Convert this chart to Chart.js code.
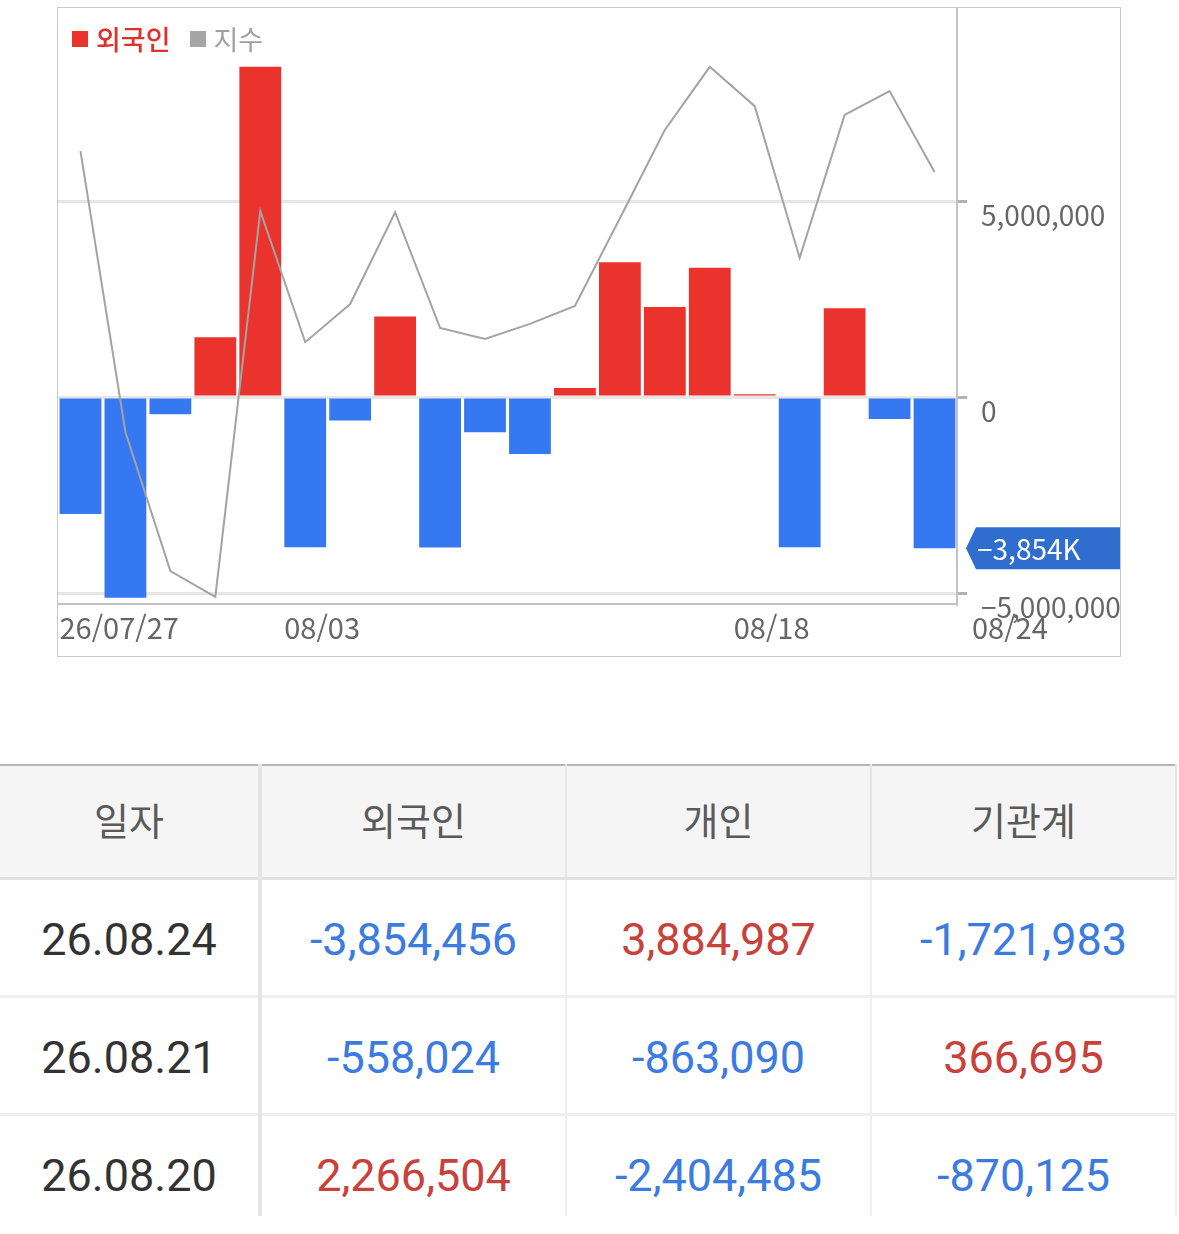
<!DOCTYPE html>
<html lang="ko">
<head>
<meta charset="utf-8">
<title>외국인 매매동향</title>
<script src="https://cdn.jsdelivr.net/npm/chart.js@4.4.1/dist/chart.umd.min.js"></script>
<style>
  html, body { margin: 0; padding: 0; background: #fff; }
  body {
    width: 1179px; height: 1234px; position: relative; overflow: hidden;
    font-family: 'Noto Sans CJK KR', 'Noto Sans', sans-serif;
  }
  #chartBox {
    position: absolute; left: 57px; top: 7px; width: 1064px; height: 650px;
    border: 1px solid #c9c9c9; box-sizing: border-box;
  }
  #legend {
    position: absolute; left: 14px; top: 15px; display: flex; align-items: center;
    font-size: 27px; line-height: 32px; pointer-events: none;
  }
  #legend .sw { display: inline-block; width: 16px; height: 16px; margin-right: 8px; }
  #legend .txt { margin-right: 19px; }
  #tableWrap {
    position: absolute; left: 0; top: 764px; width: 1177px; height: 452px; overflow: hidden;
  }
  table { border-collapse: collapse; width: 100%; table-layout: fixed; border-top: 2px solid #b5b5b5; }
  th {
    height: 105px; background: #f5f5f5; color: #5a5a5a; font-weight: 400; font-size: 38px;
    line-height: 1; padding: 0 0 6px 0; border-bottom: 3px solid #e2e2e2; border-right: 2px solid #e6e6e6;
  }
  td {
    height: 111px; text-align: center; font-family: Roboto, 'Noto Sans', sans-serif; font-size: 45px;
    line-height: 1; padding: 4px 0 0 0; border-bottom: 3px solid #efefef; border-right: 2px solid #efefef;
  }
  th:first-child, td:first-child { border-right: 4px solid #e4e4e4; }
  td.date { color: #333; }
  td.up { color: #c8413b; }
  td.down { color: #3c7be0; }
</style>
</head>
<body>
<div id="chartBox">
  <canvas id="flowChart"></canvas>
  <div id="legend"></div>
</div>
<div id="tableWrap">
  <table>
    <colgroup><col style="width:260px"><col style="width:306px"><col style="width:305px"><col></colgroup>
    <thead><tr id="headRow"></tr></thead>
    <tbody id="tableBody"></tbody>
  </table>
</div>

<script>
// 차트 데이터
const dates = ['07/27', '07/28', '07/29', '07/30', '07/31', '08/03', '08/04', '08/05', '08/06', '08/07',
               '08/10', '08/11', '08/12', '08/13', '08/14', '08/18', '08/19', '08/20', '08/21', '08/24'];
const xTickLabels = ['26/07/27', '', '', '', '', '08/03', '', '', '', '', '', '', '', '', '', '08/18', '', '', '', '08/24'];

// 외국인 순매매 (주)
const foreignValues = [-2980000, -5120000, -440000, 1530000, 8430000, -3830000, -600000, 2060000, -3840000, -900000,
                       -1450000, 230000, 3440000, 2300000, 3300000, 70000, -3830000, 2266504, -558024, -3854456];
// 지수
const indexValues = [3214.0, 3143.3, 3108.3, 3101.8, 3198.9, 3165.9, 3175.5, 3198.6, 3169.5, 3166.7,
                     3170.5, 3175.0, 3197.1, 3219.3, 3235.2, 3225.3, 3187.1, 3223.1, 3229.1, 3208.7];

const seriesNames = ['외국인', '지수'];
const yTicks = [-5000000, 0, 5000000];

// 표 데이터
const tableHeaders = ['일자', '외국인', '개인', '기관계'];
const tableDates = ['26.08.24', '26.08.21', '26.08.20'];
const tableForeign = [-3854456, -558024, 2266504];
const tablePersonal = [3884987, -863090, -2404485];
const tableInstitution = [-1721983, 366695, -870125];

const RED = '#e9332c';
const BLUE = '#3677f2';
const GREY_LINE = '#a3a3a3';

const fmt = (v) => v.toLocaleString('en-US').replace('-', '\u2212');

Chart.defaults.font.family = "'Noto Sans CJK KR', 'Noto Sans', sans-serif";
Chart.defaults.color = '#666';

// 마지막 값 태그 + 마지막 날짜 라벨
const lastValueTag = {
    id: 'lastValueTag',
    afterDraw(chart) {
        const { ctx, chartArea, scales } = chart;
        const v = foreignValues[foreignValues.length - 1];
        const y = scales.y.getPixelForValue(v);
        const tip = chartArea.right + 9;
        const base = tip + 10;
        const end = chart.width;
        const h = 21;
        ctx.save();
        ctx.fillStyle = v < 0 ? '#2f6ecf' : '#d8312a';
        ctx.beginPath();
        ctx.moveTo(tip, y);
        ctx.lineTo(base, y - h);
        ctx.lineTo(end, y - h);
        ctx.lineTo(end, y + h);
        ctx.lineTo(base, y + h);
        ctx.closePath();
        ctx.fill();
        ctx.fillStyle = '#fff';
        ctx.font = "28px 'Noto Sans CJK KR', 'Noto Sans', sans-serif";
        ctx.textBaseline = 'middle';
        ctx.textAlign = 'left';
        ctx.fillText(fmt(Math.round(v / 1000)) + 'K', base + 1, y + 1);

        // 마지막 날짜는 축 오른쪽 끝에 표시
        ctx.fillStyle = '#666';
        ctx.font = "29px 'Noto Sans CJK KR', 'Noto Sans', sans-serif";
        ctx.fillText(xTickLabels[xTickLabels.length - 1], chartArea.right + 15, chartArea.bottom + 24);
        ctx.restore();
    }
};

const ctx = document.getElementById('flowChart').getContext('2d');
const flowChart = new Chart(ctx, {
    type: 'bar',
    data: {
        labels: dates,
        datasets: [
            {
                type: 'line',
                label: seriesNames[1],
                data: indexValues,
                yAxisID: 'y2',
                borderColor: GREY_LINE,
                borderWidth: 2,
                pointRadius: 0,
                tension: 0,
                fill: false,
                order: 0
            },
            {
                type: 'bar',
                label: seriesNames[0],
                data: foreignValues,
                yAxisID: 'y',
                backgroundColor: (c) => (c.raw >= 0 ? RED : BLUE),
                borderWidth: 0,
                categoryPercentage: 1.0,
                barPercentage: 0.93,
                order: 1
            }
        ]
    },
    options: {
        responsive: true,
        maintainAspectRatio: false,
        animation: false,
        layout: { padding: 0 },
        plugins: {
            legend: { display: false },
            tooltip: { enabled: false }
        },
        scales: {
            x: {
                offset: true,
                grid: { display: false, drawTicks: false },
                border: { color: '#c3c3c3', width: 2 },
                ticks: {
                    autoSkip: false,
                    maxRotation: 0,
                    align: 'start',
                    labelOffset: -21,
                    padding: 7,
                    color: '#666',
                    font: { size: 29 },
                    callback: (value, index) => (index === xTickLabels.length - 1 ? '' : xTickLabels[index])
                },
                afterFit: (s) => { s.height = 52; s.paddingLeft = 0; s.paddingRight = 0; }
            },
            y: {
                position: 'right',
                min: -5280000,
                max: 9930000,
                bounds: 'data',
                grid: { color: '#e6e6e6', lineWidth: 3, tickColor: '#b3b3b3', tickLength: 10 },
                border: { color: '#c3c3c3', width: 2 },
                afterBuildTicks: (s) => { s.ticks = yTicks.map(v => ({ value: v })); },
                ticks: {
                    padding: 14,
                    labelOffset: 14,
                    color: '#666',
                    font: { size: 28 },
                    callback: (v) => fmt(v)
                },
                afterFit: (s) => { s.width = 163; s.paddingTop = 0; s.paddingBottom = 0; }
            },
            y2: {
                display: false,
                min: 3100,
                max: 3250
            }
        }
    },
    plugins: [lastValueTag]
});

// 범례 (차트 영역 위에 겹쳐서 표시)
const legendEl = document.getElementById('legend');
const legendColors = [RED, '#a6a6a6'];
const legendText = ['#e0302b', '#9f9f9f'];
seriesNames.forEach((name, i) => {
    const sw = document.createElement('span');
    sw.className = 'sw';
    sw.style.background = legendColors[i];
    const tx = document.createElement('span');
    tx.className = 'txt';
    tx.style.color = legendText[i];
    tx.style.fontWeight = i === 0 ? '500' : '400';
    tx.textContent = name;
    legendEl.appendChild(sw);
    legendEl.appendChild(tx);
});

// 표
const headRow = document.getElementById('headRow');
tableHeaders.forEach(h => {
    const th = document.createElement('th');
    th.textContent = h;
    headRow.appendChild(th);
});
const body = document.getElementById('tableBody');
tableDates.forEach((d, i) => {
    const tr = document.createElement('tr');
    const cells = [tableForeign[i], tablePersonal[i], tableInstitution[i]];
    let html = `<td class="date">${d}</td>`;
    cells.forEach(v => {
        html += `<td class="${v >= 0 ? 'up' : 'down'}">${v.toLocaleString('en-US')}</td>`;
    });
    tr.innerHTML = html;
    body.appendChild(tr);
});
</script>
</body>
</html>
